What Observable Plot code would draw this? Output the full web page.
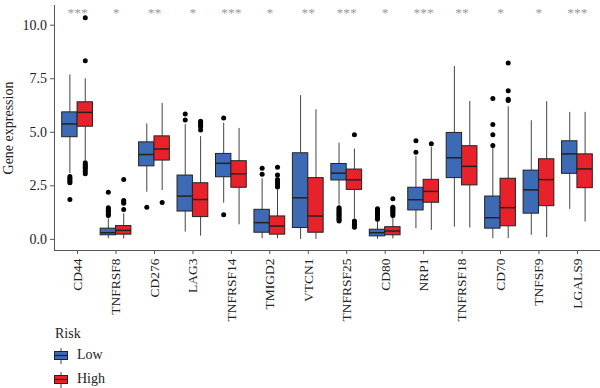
<!DOCTYPE html>
<html><head><meta charset="utf-8">
<script src="https://cdn.jsdelivr.net/npm/d3@7"></script>
<script src="https://cdn.jsdelivr.net/npm/@observablehq/plot@0.6"></script>
<style>
body{margin:0;background:#fff;font-family:"Liberation Serif","Times New Roman",serif;}
#wrap{position:relative;width:600px;height:388px;overflow:hidden;}
#chart{position:absolute;left:0;top:0;}
#legend{position:absolute;left:0;top:322px;width:600px;height:66px;font-size:14px;color:#222;}
#legend .t{position:absolute;left:55px;line-height:16px;}
#legend svg{position:absolute;left:54px;}
</style></head><body><div id="wrap"><div id="chart"></div><div id="legend"></div></div>
<script>
const genes = ["CD44","TNFRSF8","CD276","LAG3","TNFRSF14","TMIGD2","VTCN1","TNFRSF25","CD80","NRP1","TNFRSF18","CD70","TNFSF9","LGALS9"];
const signif = ["***","*","**","*","***","*","**","***","*","***","**","*","*","***"];
const risks = ["Low","High"];
const riskColors = ["#3C6AB4","#E8222B"];
const yTicks = [0, 2.5, 5, 7.5, 10];

const lowMin = [3.07,0.03,2.20,0.34,1.69,0.03,0.00,1.60,0.00,0.50,0.57,0.03,0.19,1.40];
const lowQ1  = [4.77,0.19,3.41,1.30,2.90,0.31,0.53,2.75,0.14,1.35,2.86,0.50,1.20,3.06];
const lowMed = [5.39,0.31,3.96,2.02,3.55,0.78,1.94,3.09,0.31,1.85,3.81,1.01,2.31,3.99];
const lowQ3  = [5.93,0.50,4.53,2.98,3.99,1.38,4.02,3.52,0.45,2.41,4.97,2.00,3.21,4.58];
const lowMax = [7.68,0.96,5.39,5.36,5.42,2.83,6.71,4.49,0.88,3.87,8.07,4.27,5.54,5.93];

const highMin = [3.68,0.02,2.28,0.15,0.68,0.03,0.00,0.96,0.02,0.42,0.53,0.03,0.08,0.81];
const highQ1  = [5.26,0.22,3.68,1.04,2.41,0.22,0.31,2.31,0.19,1.71,2.52,0.61,1.55,2.39];
const highMed = [5.93,0.42,4.22,1.86,3.06,0.62,1.09,2.78,0.39,2.24,3.41,1.48,2.79,3.29];
const highQ3  = [6.40,0.62,4.81,2.62,3.65,1.07,2.86,3.26,0.57,2.78,4.35,2.83,3.74,3.97];
const highMax = [7.50,1.20,6.35,4.80,5.18,2.31,6.05,4.22,1.04,4.30,6.44,6.19,6.43,5.93];

const lowOutliers = [
  [2.93,2.85,2.78,2.70,2.64,1.86],
  [2.20,1.48,1.42,1.35,1.30,1.24,1.17,1.11],
  [1.50],
  [5.85,5.57],
  [5.67,1.15],
  [3.32,3.04],
  [],
  [1.48,1.42,1.35,1.29,1.23,1.17,1.11,1.04,0.98,0.92,0.86],
  [1.43,1.37,1.30,1.24,1.18,1.12,1.06,1.00,0.94],
  [4.61,4.07],
  [],
  [6.58,5.36,4.88,4.38],
  [],
  []
];
const highOutliers = [
  [10.35,8.34,3.58,3.50,3.42,3.35,3.28,3.18,3.06],
  [2.80,1.82,1.75,1.69,1.40],
  [1.72],
  [5.51,5.45,5.40,5.33,5.26,5.11],
  [],
  [3.37,3.01,2.79,2.70,2.60,2.50,2.44],
  [],
  [4.89,0.86,0.81,0.72,0.65,0.57],
  [1.90,1.50,1.44,1.38,1.32,1.26,1.18,1.11],
  [4.46],
  [],
  [8.24,6.94,6.54,6.48],
  [],
  []
];
const sigLabelY = 10.6;

// build tables
const dodge = {Low: -0.2, High: 0.2};
const halfW = 0.2;
const rows = [];
const outRows = [];
genes.forEach((g, i) => {
  rows.push({gene: g, pos: i + 1, risk: "Low", min: lowMin[i], q1: lowQ1[i], med: lowMed[i], q3: lowQ3[i], max: lowMax[i]});
  rows.push({gene: g, pos: i + 1, risk: "High", min: highMin[i], q1: highQ1[i], med: highMed[i], q3: highQ3[i], max: highMax[i]});
  lowOutliers[i].forEach(v => outRows.push({pos: i + 1, risk: "Low", value: v}));
  highOutliers[i].forEach(v => outRows.push({pos: i + 1, risk: "High", value: v}));
});
const sigRows = genes.map((g, i) => ({pos: i + 1, label: signif[i], y: sigLabelY}));
const cx = d => d.pos + dodge[d.risk];

const chart = Plot.plot({
  width: 600, height: 330,
  marginLeft: 54, marginRight: 0, marginTop: 5, marginBottom: 80,
  style: {fontFamily: '"Liberation Serif","Times New Roman",serif', fontSize: "14px", color: "#222", background: "transparent", overflow: "visible"},
  x: {domain: [0.4, genes.length + 0.6]},
  y: {domain: [-0.52, 10.92]},
  color: {domain: risks, range: riskColors},
  marks: [
    Plot.frame({anchor: "left", stroke: "#555"}),
    Plot.frame({anchor: "bottom", stroke: "#555"}),
    Plot.axisX({ticks: d3.range(1, genes.length + 1), tickFormat: d => genes[d - 1], tickRotate: -90,
                tickSize: 4, tickPadding: 4, fontSize: 13.5, stroke: "#555", fill: "#222", label: null}),
    Plot.axisY({ticks: yTicks, tickFormat: ".1f", tickSize: 4, tickPadding: 3.5, fontSize: 14, stroke: "#555", fill: "#222",
                label: "Gene expression", labelAnchor: "center", labelArrow: "none"}),
    Plot.ruleX(rows, {x: cx, y1: "min", y2: "q1", stroke: "#444", strokeWidth: 1}),
    Plot.ruleX(rows, {x: cx, y1: "q3", y2: "max", stroke: "#444", strokeWidth: 1}),
    Plot.rect(rows, {x1: d => cx(d) - halfW, x2: d => cx(d) + halfW, y1: "q1", y2: "q3", fill: "risk", stroke: "#222", strokeWidth: 1}),
    Plot.ruleY(rows, {x1: d => cx(d) - halfW, x2: d => cx(d) + halfW, y: "med", stroke: "#222", strokeWidth: 1.5}),
    Plot.dot(outRows, {x: cx, y: "value", r: 2.5, fill: "black", stroke: null}),
    Plot.text(sigRows, {x: "pos", y: "y", text: "label", fill: "#999", fontSize: 13.5})
  ]
});
document.getElementById("chart").appendChild(chart);

// legend
const legend = document.getElementById("legend");
const title = document.createElement("div");
title.className = "t"; title.style.top = "4px"; title.textContent = "Risk";
legend.appendChild(title);
risks.forEach((r, i) => {
  const top = 26 + i * 24;
  const ns = "http://www.w3.org/2000/svg";
  const s = document.createElementNS(ns, "svg");
  s.setAttribute("width", 16); s.setAttribute("height", 16);
  s.style.top = top + "px";
  const wl = document.createElementNS(ns, "line");
  wl.setAttribute("x1", 7); wl.setAttribute("x2", 7); wl.setAttribute("y1", 0); wl.setAttribute("y2", 16);
  wl.setAttribute("stroke", "#444");
  s.appendChild(wl);
  const rc = document.createElementNS(ns, "rect");
  rc.setAttribute("x", 0.5); rc.setAttribute("y", 3.5); rc.setAttribute("width", 13); rc.setAttribute("height", 8);
  rc.setAttribute("fill", riskColors[i]); rc.setAttribute("stroke", "#222");
  s.appendChild(rc);
  const md = document.createElementNS(ns, "line");
  md.setAttribute("x1", 0.5); md.setAttribute("x2", 13.5); md.setAttribute("y1", 7.5); md.setAttribute("y2", 7.5);
  md.setAttribute("stroke", "#222"); md.setAttribute("stroke-width", 1.2);
  s.appendChild(md);
  legend.appendChild(s);
  const t = document.createElement("div");
  t.className = "t"; t.style.left = "77px"; t.style.top = (top - 1) + "px"; t.textContent = r;
  legend.appendChild(t);
});
</script></body></html>
